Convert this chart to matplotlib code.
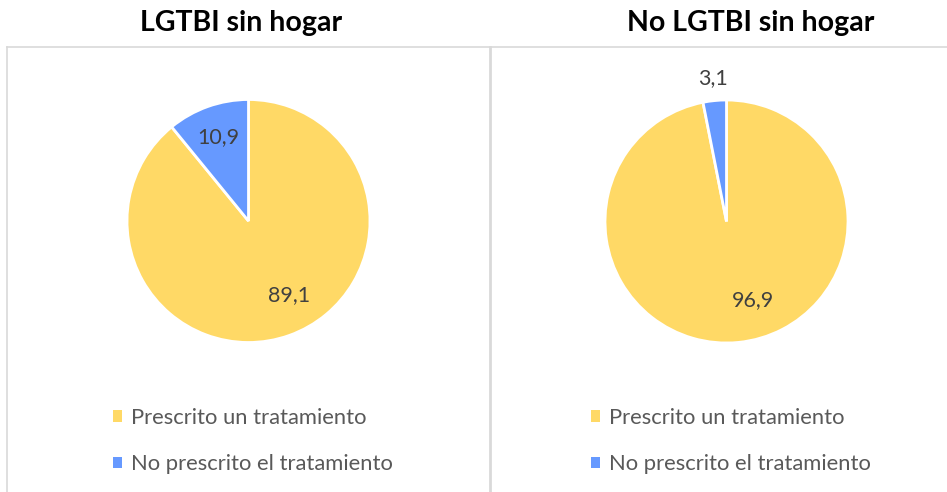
import matplotlib
matplotlib.use("Agg")
import matplotlib.pyplot as plt
from matplotlib.lines import Line2D
from matplotlib.patches import Patch

plt.rcParams['font.family'] = ['Lato', 'DejaVu Sans']

# data
titles = ['LGTBI sin hogar', 'No LGTBI sin hogar']
categories = ['Prescrito un tratamiento', 'No prescrito el tratamiento']
lgtbi_values = [89.1, 10.9]
no_lgtbi_values = [96.9, 3.1]
colors = ['#FFD966', '#6699FF']

# label spots (pie units, centre at 0,0) as Excel placed them
label_pos = [
    [(0.33, -0.61), (-0.25, 0.69)],
    [(0.22, -0.65), (-0.11, 1.18)],
]

W, H = 947, 492
fig = plt.figure(figsize=(W / 100, H / 100), dpi=100)

# panel frame lines
grid_col = '#D9D9D9'
fig.add_artist(Line2D([7 / W, 1], [1 - 47 / H] * 2, color=grid_col, lw=1.2))
fig.add_artist(Line2D([7 / W] * 2, [0, 1 - 47 / H], color=grid_col, lw=1.2))
fig.add_artist(Line2D([490 / W] * 2, [0, 1 - 47 / H], color=grid_col, lw=2.0))

centers = [(248.5, 221), (726.5, 221.5)]
title_x = [241, 751]
legend_x = [113, 591]
r = 121.5

for i, vals in enumerate([lgtbi_values, no_lgtbi_values]):
    cx, cy = centers[i]
    ax = fig.add_axes([(cx - r) / W, (H - cy - r) / H, 2 * r / W, 2 * r / H])
    wedges, _ = ax.pie(vals, colors=colors, startangle=90, counterclock=False,
                       wedgeprops=dict(edgecolor='white', linewidth=2))
    ax.set_xlim(-1, 1)
    ax.set_ylim(-1, 1)
    ax.set_aspect('equal')
    ax.axis('off')
    for v, (lx, ly) in zip(vals, label_pos[i]):
        ax.text(lx, ly, f'{v:.1f}'.replace('.', ','), ha='center', va='center',
                fontsize=15.5, color='#404040', clip_on=False)

    fig.text(title_x[i] / W, 1 - 23 / H, titles[i], ha='center', va='center',
             fontsize=20.5, fontweight='bold', color='black')

    handles = [Patch(facecolor=c, edgecolor='none') for c in colors]
    fig.legend(handles, categories, loc='upper left',
               bbox_to_anchor=(legend_x[i] / W, 1 - 408 / H), frameon=False,
               fontsize=15.8, labelcolor='#595959', handlelength=0.42,
               handleheight=0.42, handletextpad=0.42, labelspacing=1.2,
               borderpad=0, borderaxespad=0)

fig.savefig('out.png', dpi=100, facecolor='white')
